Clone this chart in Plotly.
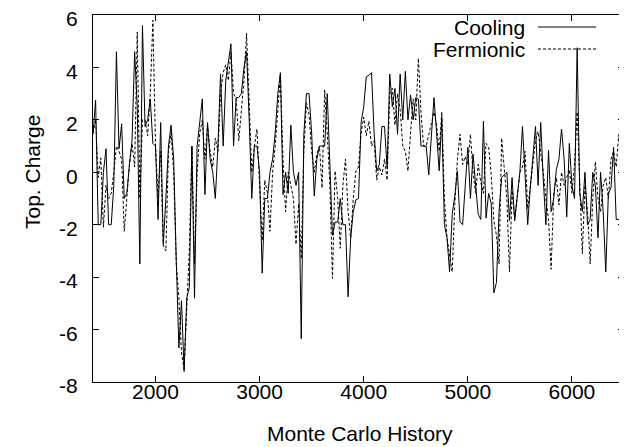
import plotly.graph_objects as go

# Monte Carlo history (step 25 from 1400 to 6500)
history = list(range(1400, 6501, 25))

cooling = [
    1.45, 2.75, -2.0, -2.0, 0.0, 0.9, -2.0, -2.0, -0.5, 4.6, 0.9, 1.85, -1.0, -0.8, 0.3, 1.2, 4.6, 2.5, -3.5, 5.6, 1.75, 2.0,
    2.8, 1.1, 1.0, -1.8, 1.9, -2.75, -1.0, 1.0, 1.8, 0.5, -3.4, -6.7, -4.9, -7.6, -4.8, -4.4, 1.0, -4.8, 1.0, 2.0, 2.8, -0.85,
    1.9, 0.5, 0.0, -1.0, 1.0, 3.75, 1.0, 3.5, 4.2, 4.9, 1.0, 2.85, 2.85, 3.0, 4.0, 4.6, 2.0, -1.0, 1.0, 1.0, 0.0, -3.85, -1.0,
    -1.0, 0.0, 0.5, 1.5, 3.0, 3.8, -0.85, 0.0, -0.8, 1.8, 0.0, -0.5, 0.0, -6.35, 1.45, 3.0, 3.0, 1.5, -0.9, 0.5, 1.0, 1.0,
    1.0, 3.0, 0.5, -2.4, -1.9, -1.9, -1.0, -2.0, -2.0, -4.75, -2.5, -1.5, -1.05, -1.0, 1.9, 2.5, 3.65, 3.7, 3.8, 1.5, 0.05, 0.3,
    1.75, 1.75, 0.15, 3.75, 2.5, 3.2, 1.45, 3.75, 2.0, 3.85, 2.0, 2.95, 2.0, 2.85, 2.8, 1.0, 1.0, 1.0, -0.1, 1.5, 2.85, 1.5,
    0.05, 2.1, -2.0, -2.5, -3.8, -1.6, -0.9, 0.05, -1.9, -2.0, -0.5, 0.95, -1.0, 0.7, -0.5, -1.6, -1.8, 1.95, -1.75, -0.8, -1.2, -4.6,
    -4.2, -1.5, -0.2, -0.1, 0.0, -1.85, -0.2, -1.85, -0.8, 0.0, 1.75, 0.0, -2.0, -0.6, 0.5, 1.75, -0.5, 1.9, -0.3, -2.0, 0.85, -1.5, -1.0,
    0.1, 0.5, 1.65, 0.5, -1.7, 1.1, -0.5, -1.0, 4.75, -0.8, -1.5, 0.0, -2.0, -1.8, 0.0, -0.5, -2.5, 0.0, -1.5, -3.8, -0.8, -0.6, 0.95, -1.8, -1.8, -1.9, -1.9,
]

fermionic = [
    1.5, 2.0, -0.2, 0.55, -2.1, -0.5, -1.0, -0.8, 0.0, 1.0, 0.8, 0.5, -2.25, -0.9, 0.3, 1.1, 0.2, 5.35, -1.0, 2.0, 2.0, 1.4,
    3.0, 5.8, 1.1, -1.0, 0.8, -2.8, -3.0, 0.8, 1.5, 0.0, -3.5, -4.8, -6.9, -7.5, -5.0, -3.0, 1.0, -3.5, 0.0, 1.5, 2.0, 0.5,
    1.8, 0.8, 0.2, 1.3, 0.8, 3.0, 3.8, 4.1, 3.5, 4.6, 3.0, 2.8, 1.2, 2.5, 3.5, 5.3, 2.5, 0.0, 1.0, 1.65, -0.5, -2.6, -0.3,
    -0.8, -2.25, 0.0, 1.0, 2.5, 3.75, 0.5, -1.5, 0.0, -0.5, -1.0, -2.75, -1.2, -3.3, 0.8, 2.65, 2.2, 0.8, 0.0, 0.7, 1.0, -0.6,
    3.15, 1.5, -0.5, -4.05, 0.05, -1.0, -2.9, -0.5, 0.5, -1.5, -2.5, -1.0, 0.05, 0.2, 1.5, 2.1, 1.4, 1.95, 1.0, 1.2, -0.3, 0.2,
    -0.1, 0.5, -0.3, 3.0, 3.2, 1.8, 3.0, 2.4, 1.0, 0.8, 0.05, 1.5, 2.8, 2.0, 4.35, 2.3, 1.0, 1.0, 1.4, 1.9, 2.3, 1.8,
    0.8, 2.3, -1.0, -2.5, -3.15, -3.8, -1.2, 0.5, 1.45, 0.3, 0.6, 0.3, 1.45, 0.0, -0.8, 0.3, -0.4, -0.8, 1.1, 0.95, -0.1, -1.85,
    -2.4, -3.5, 1.3, 0.0, -1.0, -3.8, -0.7, -1.8, -1.0, 0.0, 0.2, 0.8, -1.4, -0.5, 0.2, 1.2, 1.55, 0.8, 0.0, -1.0, -1.8, -3.7, -0.8,
    -0.2, -1.25, 0.0, -0.5, -0.2, 0.1, -0.8, 0.3, 2.3, -0.5, -3.1, -0.5, -1.5, -3.5, -1.0, 0.4, -1.0, -1.5, -0.5, -0.2, -1.0, 0.5, 0.8, 0.2, 1.45, 0.3, 1.4,
]

x_ticks = [2000, 3000, 4000, 5000, 6000]
y_ticks = [-8, -6, -4, -2, 0, 2, 4, 6]
y_tick_labels = [str(v) for v in y_ticks]
series_names = ["Cooling", "Fermionic"]

FONT = "Liberation Sans, Arial, Helvetica, sans-serif"
FS = 21

fig = go.Figure()
fig.add_trace(go.Scatter(x=history, y=cooling, mode="lines", name=series_names[0],
                         line=dict(color="black", width=1), showlegend=False))
fig.add_trace(go.Scatter(x=history, y=fermionic, mode="lines", name=series_names[1],
                         line=dict(color="black", width=1, dash="3px,2px"), showlegend=False))

L, R, T, B = 85, 11, 7, 73
W, H = 627, 447
pw, ph = W - L - R, H - T - B

def px_x(p):
    return (p - L) / pw

def px_y(p):
    return (H - B - p) / ph

annotations = []
shapes = []
legend_rows = [(19, None), (41, "3px,2px")]
for name, (ypix, dash) in zip(series_names, legend_rows):
    annotations.append(dict(x=px_x(519), y=px_y(ypix), xref="paper", yref="paper",
                            text=name, showarrow=False, xanchor="right", yanchor="middle",
                            font=dict(family=FONT, size=FS, color="black")))
    shapes.append(dict(type="line", xref="paper", yref="paper",
                       x0=px_x(530), x1=px_x(588), y0=px_y(ypix), y1=px_y(ypix),
                       line=dict(color="black", width=1, dash=dash if dash else "solid")))

annotations.append(dict(x=px_x(24), y=px_y(164), xref="paper", yref="paper",
                        text="Top. Charge", showarrow=False, textangle=-90,
                        xanchor="center", yanchor="middle",
                        font=dict(family=FONT, size=FS, color="black")))
annotations.append(dict(x=px_x(352), y=px_y(425), xref="paper", yref="paper",
                        text="Monte Carlo History", showarrow=False,
                        xanchor="center", yanchor="middle",
                        font=dict(family=FONT, size=FS, color="black")))

fig.update_layout(
    width=W, height=H,
    margin=dict(l=L, r=R, t=T, b=B, pad=0, autoexpand=False),
    paper_bgcolor="white", plot_bgcolor="white",
    font=dict(family=FONT, size=FS, color="black"),
    annotations=annotations, shapes=shapes,
    xaxis=dict(range=[1400, 6500], tickvals=x_ticks, ticktext=[str(v) for v in x_ticks],
               ticks="inside", ticklen=6, tickwidth=1, tickcolor="black",
               showline=True, linecolor="black", linewidth=1, mirror="ticks",
               showgrid=False, zeroline=False, ticklabelstandoff=-9, automargin=False,
               ticklabeloverflow="allow"),
    yaxis=dict(range=[-8.0001, 6.0001], tickvals=y_ticks, ticktext=y_tick_labels,
               ticks="inside", ticklen=6, tickwidth=1, tickcolor="black",
               showline=True, linecolor="black", linewidth=1, mirror="ticks",
               showgrid=False, zeroline=False, ticklabelstandoff=10, automargin=False,
               ticklabeloverflow="allow", ticklabelshift=4),
)

fig.write_html("out.html")
